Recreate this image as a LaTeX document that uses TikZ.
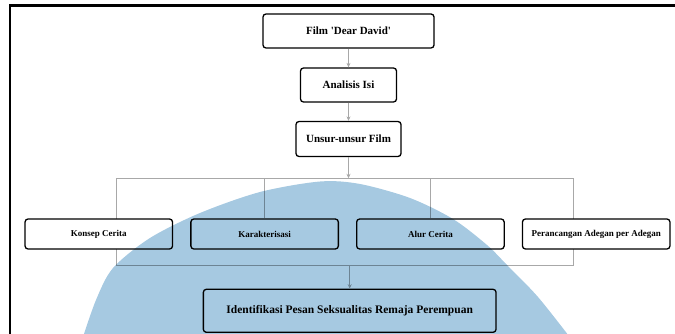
\documentclass[tikz,border=0pt]{standalone}
\usepackage{fontspec}
\setmainfont{Liberation Serif}
\usetikzlibrary{arrows.meta}
\definecolor{linkgray}{RGB}{168,168,168}
\definecolor{markblue}{RGB}{166,201,225}
\tikzset{
  box/.style={draw,line width=1.3pt,rounded corners=3pt,fill=white,inner sep=0pt,font=\bfseries},
  topbox/.style={box,minimum height=34pt,font=\fontsize{11}{13}\selectfont\bfseries,node distance=54pt},
  rowbox/.style={box,minimum width=147.5pt,minimum height=30pt,font=\fontsize{9}{11}\selectfont\bfseries,node distance=165.8pt},
  link/.style={draw=linkgray,line width=0.9pt},
  linkarrow/.style={link,-{Stealth[length=4.5pt,width=4pt]}}
}
\begin{document}
\begin{tikzpicture}[x=1pt,y=-1pt]
                \useasboundingbox (0,0) rectangle (675,334);
                % page frame
                \draw[line width=2.5pt] (10,345) -- (10,5.5) -- (690,5.5);
                % bracket round the four elements
                \coordinate (brtl) at (116,178.3);
                \coordinate (brbr) at (573,265.7);
                \draw[link] (brtl) rectangle (brbr);
                \path (348.5,31) node[topbox,minimum width=171pt] (film) {Film \textquotesingle Dear David\textquotesingle};
                \path node[topbox,minimum width=96pt,below of=film] (analisis) {Analisis Isi};
                \path node[topbox,minimum width=105pt,minimum height=35pt,below of=analisis] (unsur) {Unsur-unsur Film};
                \path (98.8,234) node[rowbox] (konsep) {Konsep Cerita};
                \path node[rowbox,right of=konsep] (karakter) {Karakterisasi};
                \path node[rowbox,right of=karakter] (alur) {Alur Cerita};
                \path node[rowbox,right of=alur] (adegan) {Perancangan Adegan per Adegan};
                \path (349.7,310.8) node[box,minimum width=292.7pt,minimum height=43pt,font=\fontsize{11.5}{13}\selectfont\bfseries] (pesan) {Identifikasi Pesan Seksualitas Remaja Perempuan};
                \draw[linkarrow] (film) -- (analisis);
                \draw[linkarrow] (analisis) -- (unsur);
                \draw[linkarrow] (unsur.south) -- (unsur.south |- brtl);
                \draw[link] (karakter.north |- brtl) -- (karakter.north);
                \draw[link] (alur.north |- brtl) -- (alur.north);
                \draw[linkarrow] (pesan.north |- brbr) -- (pesan.north);
                % watermark
                \begin{scope}[blend mode=multiply]
                  \fill[markblue] plot[smooth] coordinates {(82,340) (96,300) (113,268) (150,238) (200,213) (260,192) (320,181.5) (360,184) (410,198) (453,219) (487,245) (507,265) (538,297) (572,340)} -- cycle;
                \end{scope}
\end{tikzpicture}
\end{document}
